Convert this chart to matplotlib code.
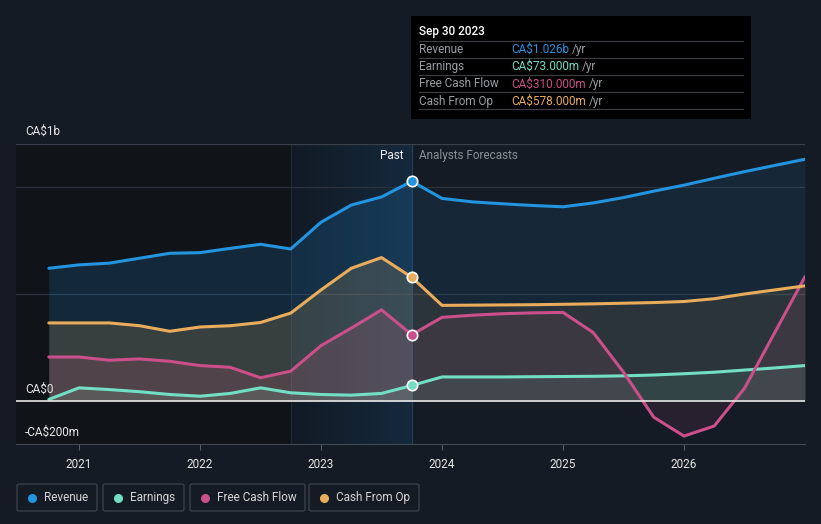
import matplotlib.pyplot as plt
import numpy as np
from matplotlib.colors import LinearSegmentedColormap
from matplotlib.patches import FancyBboxPatch, Rectangle

plt.rcParams["font.family"] = ["Roboto", "DejaVu Sans"]

# quarterly history (decimal years), values in CA$ billions
past_x = [2020.75, 2021.0, 2021.25, 2021.5, 2021.75, 2022.0, 2022.25,
          2022.5, 2022.75, 2023.0, 2023.25, 2023.5, 2023.75]
past_revenue = [0.620, 0.636, 0.644, 0.667, 0.690, 0.693, 0.713,
                0.732, 0.710, 0.835, 0.915, 0.953, 1.026]
past_earnings = [0.008, 0.062, 0.054, 0.044, 0.031, 0.023, 0.036,
                 0.062, 0.039, 0.031, 0.028, 0.036, 0.073]
past_fcf = [0.206, 0.206, 0.191, 0.197, 0.186, 0.166, 0.158,
            0.109, 0.140, 0.259, 0.341, 0.426, 0.310]
past_cfo = [0.365, 0.365, 0.365, 0.352, 0.326, 0.346, 0.352,
            0.367, 0.411, 0.519, 0.620, 0.670, 0.578]

# analyst forecasts
fc_x = [2023.75, 2024.0, 2024.25, 2024.5, 2024.75, 2025.0, 2025.25,
        2025.5, 2025.75, 2026.0, 2026.25, 2026.5, 2026.75, 2027.0]
fc_revenue = [1.026, 0.946, 0.930, 0.921, 0.913, 0.907, 0.925,
              0.950, 0.980, 1.008, 1.040, 1.071, 1.100, 1.129]
fc_earnings = [0.073, 0.113, 0.113, 0.113, 0.114, 0.115, 0.116,
               0.118, 0.122, 0.128, 0.135, 0.145, 0.155, 0.166]
fc_fcf = [0.310, 0.391, 0.401, 0.408, 0.412, 0.414, 0.320,
          0.135, -0.075, -0.163, -0.116, 0.060, 0.320, 0.581]
fc_cfo = [0.578, 0.447, 0.448, 0.449, 0.450, 0.452, 0.454,
          0.457, 0.460, 0.465, 0.478, 0.500, 0.519, 0.538]

series = ["Revenue", "Earnings", "Free Cash Flow", "Cash From Op"]
colors = ["#2394df", "#72dfc4", "#cb4f8a", "#e9ac5b"]
tooltip_values = ["CA$1.026b", "CA$73.000m", "CA$310.000m", "CA$578.000m"]
year_ticks = [2021, 2022, 2023, 2024, 2025, 2026]

BG = "#151b24"
W, H = 821, 524


def px(x, y):
    # pixel coords (top-left origin) -> figure fraction
    return x / W, 1 - y / H


fig = plt.figure(figsize=(W / 100, H / 100), dpi=100, facecolor=BG)
ax = fig.add_axes([16 / W, 1 - 444 / H, (805 - 16) / W, 300 / H])
ax.set_facecolor(BG)
ax.set_xlim(2020.479, 2027.0)
ax.set_ylim(-0.2, 1.2)

# darker past region and highlighted last year
ax.axvspan(2020.479, 2022.75, color="#101419", zorder=0, lw=0)
grad = np.linspace(0, 1, 256).reshape(1, -1)
cmap = LinearSegmentedColormap.from_list("hl", ["#111a24", "#15293d"])
ax.imshow(grad, cmap=cmap, extent=[2022.75, 2023.75, -0.2, 1.2],
          aspect="auto", zorder=0.5)
ax.axvline(2022.75, color="#1c2a38", lw=0.8, zorder=0.6)
ax.axvline(2023.75, color="#22405a", lw=0.8, zorder=0.6)

# grid lines
ax.axhline(1.2, color="#3a4049", lw=0.9, zorder=1)
for g in [1.0, 0.5]:
    ax.axhline(g, color="#2c333d", lw=0.9, zorder=1)

past = [past_revenue, past_earnings, past_fcf, past_cfo]
fc = [fc_revenue, fc_earnings, fc_fcf, fc_cfo]
for p, f, c in zip(past, fc, colors):
    ax.fill_between(past_x, p, 0, color=c, alpha=0.17, lw=0, zorder=2)
    ax.fill_between(fc_x, f, 0, color=c, alpha=0.10, lw=0, zorder=2)
    ax.plot(past_x, p, color=c, lw=2.2, zorder=4, solid_capstyle="round",
            solid_joinstyle="round")
    ax.plot(fc_x, f, color=c, lw=2.2, zorder=4, solid_capstyle="round",
            solid_joinstyle="round")
    ax.plot(past_x[-1], p[-1], "o", ms=7.5, mfc=c, mec="white", mew=1.2,
            zorder=6)

ax.axhline(0, color="#e6e6e6", lw=1.2, zorder=5)

for s in ["top", "right", "left"]:
    ax.spines[s].set_visible(False)
ax.spines["bottom"].set_color("#444a53")
ax.set_yticks([])
ax.set_xticks(year_ticks)
ax.set_xticklabels([str(y) for y in year_ticks])
ax.tick_params(axis="x", colors="#555b63", length=4, width=0.8,
               labelcolor="#e6e6e6", labelsize=8.5, pad=6)

# y labels
for txt, yy in [("CA$1b", 131), ("CA$0", 389), ("-CA$200m", 432)]:
    fig.text(*px(25, yy), txt, color="#e6e6e6", fontsize=8.5, va="center")

fig.text(*px(403, 156), "Past", color="#f0f0f0", fontsize=8.5,
         ha="right", va="center")
fig.text(*px(419, 156), "Analysts Forecasts", color="#8b9098",
         fontsize=8.5, ha="left", va="center")

# tooltip box
x0, y0 = px(411, 119)
fig.patches.append(Rectangle((x0, y0), 340 / W, 103 / H, transform=fig.transFigure,
                             facecolor="#000000", edgecolor="none", zorder=10))
fig.text(*px(419, 31), "Sep 30 2023", color="white", fontsize=8.5,
         fontweight="medium", va="center", zorder=11)
for yy in [41, 58, 75, 92, 109]:
    fig.add_artist(plt.Line2D([419 / W, 743 / W], [1 - yy / H] * 2,
                              color="#3c3f44", lw=0.8, zorder=11))
fig.canvas.draw()
renderer = fig.canvas.get_renderer()
for k, (name, val, c) in enumerate(zip(series, tooltip_values, colors)):
    yy = 49.5 + k * 17.2
    fig.text(*px(419, yy), name, color="#9a9da3", fontsize=8.5,
             va="center", zorder=11)
    t = fig.text(*px(511, yy), val, color=c, fontsize=8.5, va="center",
                 zorder=11)
    bb = t.get_window_extent(renderer)
    fig.text(bb.x1 / W + 3 / W, 1 - yy / H, "/yr", color="#9a9da3",
             fontsize=8.5, va="center", zorder=11)

# legend boxes
box_x = [17, 103, 190, 309]
box_w = [80, 81, 115, 110]
for name, c, bx, bw in zip(series, colors, box_x, box_w):
    lx, ly = px(bx, 511)
    fig.patches.append(FancyBboxPatch((lx, ly), bw / W, 27 / H,
                                      boxstyle="round,pad=0,rounding_size=0.003",
                                      transform=fig.transFigure,
                                      facecolor="none", edgecolor="#3a3f48",
                                      lw=1))
    fig.add_artist(plt.Line2D([(bx + 15) / W], [1 - 497.5 / H], marker="o",
                              ms=5.5, color=c, lw=0))
    fig.text(*px(bx + 27, 497.5), name, color="#d6d6d6", fontsize=8.5,
             va="center")

fig.savefig("out.png", dpi=100, facecolor=BG)
